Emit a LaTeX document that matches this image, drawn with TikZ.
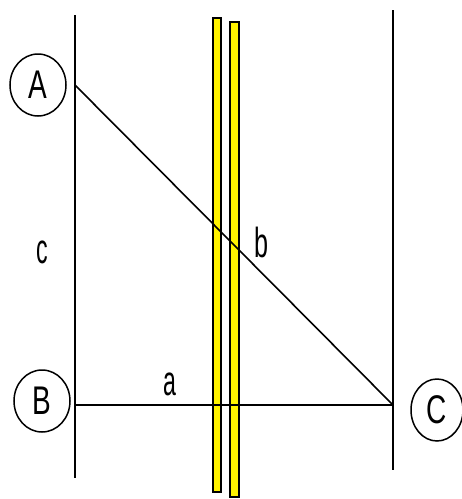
\documentclass[tikz,border=0pt]{standalone}
\usepackage{fontspec}
\setmainfont{Liberation Sans}
\usetikzlibrary{shapes.geometric}
\begin{document}
\begin{tikzpicture}[x=1pt,y=-1pt,
  ln/.style={draw=black,line width=1.6pt},
  lbl/.style={font=\fontsize{42}{42}\selectfont,inner sep=0pt},
  circ/.style={draw=black,line width=1.5pt,ellipse,minimum width=56pt,minimum height=62pt,inner sep=0pt,font=\fontsize{40}{40}\selectfont},
  strip/.style={draw=black,fill=yellow,line width=1.8pt}]
\useasboundingbox (0,0) rectangle (462,499);
% yellow strips
\draw[strip] (213,18) rectangle (221,492);
\draw[strip] (230,22) rectangle (239,497);
% vertical lines
\coordinate (L1) at (75,15);
\coordinate (L2) at (75,478);
\coordinate (R1) at (393,10);
\coordinate (R2) at (393,470);
\draw[ln] (L1) -- (L2);
\draw[ln] (R1) -- (R2);
% points
\coordinate (PA) at (75,85);
\coordinate (PB) at (75,405);
\coordinate (PC) at (393,405);
\draw[ln] (PA) -- (PC);
\draw[ln] (PB) -- (PC);
% circles
\node[circ] (A) at (38,85) {\scalebox{0.7}[1]{A}};
\node[circ] (B) at (42,401) {\scalebox{0.7}[1]{B}};
\node[circ,minimum width=52pt] (C) at (437,410) {\scalebox{0.7}[1]{C}};
% labels
\node[lbl] (c) at (42,252) {\scalebox{0.55}[1]{c}};
\node[lbl] (a) at (170,384) {\scalebox{0.55}[1]{a}};
\node[lbl] (b) at (262,242) {\scalebox{0.6}[1]{b}};
\end{tikzpicture}
\end{document}
